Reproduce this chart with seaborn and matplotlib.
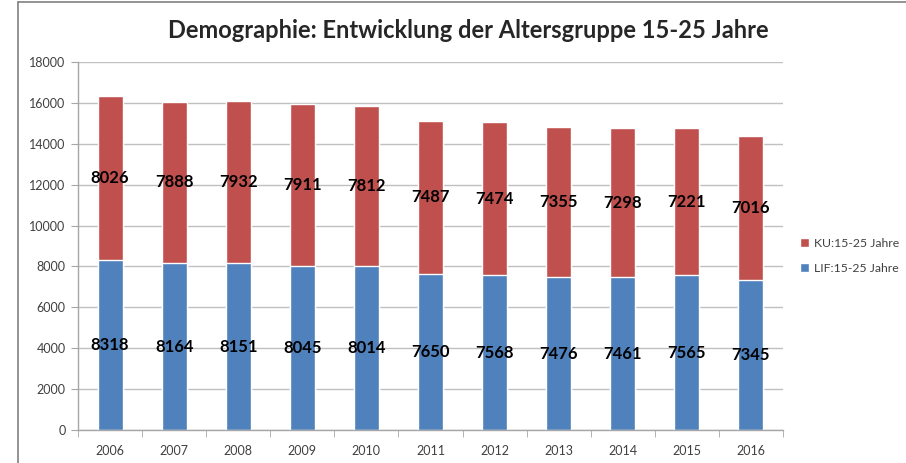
import numpy as np
import pandas as pd
import matplotlib
matplotlib.use("Agg")
import matplotlib.pyplot as plt
from matplotlib.lines import Line2D
from matplotlib.patches import Patch
import seaborn as sns

# ====================== Daten ======================
jahre = ["2006", "2007", "2008", "2009", "2010", "2011", "2012", "2013", "2014", "2015", "2016"]
lif = [8318, 8164, 8151, 8045, 8014, 7650, 7568, 7476, 7461, 7565, 7345]
ku = [8026, 7888, 7932, 7911, 7812, 7487, 7474, 7355, 7298, 7221, 7016]

rot = "#C0504D"
blau = "#4F81BD"

df = pd.DataFrame({"Jahr": jahre, "LIF": lif, "KU": ku})
df["Summe"] = df["LIF"] + df["KU"]

sns.set_style("white")
plt.rcParams["font.family"] = ["Lato", "DejaVu Sans"]

fig = plt.figure(figsize=(9.06, 4.63), dpi=100)
ax = fig.add_axes([0.0861, 0.0713, 0.7781, 0.7948])

# gestapelt: erst Summe (rot), dann LIF (blau) darüber
sns.barplot(data=df, x="Jahr", y="Summe", color=rot, width=0.39, saturation=1, ax=ax)
sns.barplot(data=df, x="Jahr", y="LIF", color=blau, width=0.39, saturation=1, ax=ax)

# Datenbeschriftung
for i, (l, k) in enumerate(zip(lif, ku)):
    ax.text(i, l / 2, str(l), ha="center", va="center", fontsize=12, fontweight="bold", color="black")
    ax.text(i, l + k / 2, str(k), ha="center", va="center", fontsize=12, fontweight="bold", color="black")

ax.set_ylim(0, 18000)
ax.set_xlim(-0.5, len(jahre) - 0.5)
ax.set_yticks(np.arange(0, 18001, 2000))
ax.yaxis.grid(True, color="#c0c0c0", linewidth=1)
ax.set_axisbelow(True)
ax.set_xlabel("")
ax.set_ylabel("")

for s in ["top", "right"]:
    ax.spines[s].set_visible(False)
for s in ["left", "bottom"]:
    ax.spines[s].set_color("#a6a6a6")
    ax.spines[s].set_linewidth(1)

ax.tick_params(axis="y", which="major", left=True, length=5, color="#a6a6a6", labelsize=9, labelcolor="#404040", pad=4)
ax.tick_params(axis="x", which="major", bottom=False, labelsize=9, labelcolor="#404040", pad=7)
ax.set_xticks(np.arange(-0.5, len(jahre), 1.0), minor=True)
ax.tick_params(axis="x", which="minor", bottom=True, length=5, color="#a6a6a6")

fig.text(0.517, 0.935, "Demographie: Entwicklung der Altersgruppe 15-25 Jahre",
         ha="center", va="center", fontsize=17, fontweight="bold")

handles = [Patch(facecolor=rot, label="KU:15-25 Jahre"),
           Patch(facecolor=blau, label="LIF:15-25 Jahre")]
fig.legend(handles=handles, loc="center left", bbox_to_anchor=(0.871, 0.448), frameon=False,
           fontsize=8.8, handlelength=0.7, handleheight=0.7, handletextpad=0.4, labelspacing=1.15,
           labelcolor="#404040")

# Rahmen des Screenshots
fig.add_artist(Line2D([18 / 906, 18 / 906], [0, 1 - 2 / 463], color="#808080", linewidth=1.2))
fig.add_artist(Line2D([18 / 906, 1], [1 - 2 / 463, 1 - 2 / 463], color="#808080", linewidth=1.2))

plt.savefig("out.png", dpi=100)
plt.close()
